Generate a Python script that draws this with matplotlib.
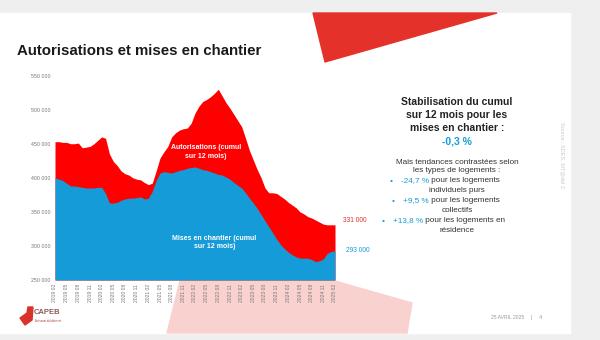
import matplotlib
matplotlib.use("Agg")
import matplotlib.pyplot as plt
import matplotlib.patches as mpatches
import numpy as np

plt.rcParams['font.family'] = ['Liberation Sans', 'DejaVu Sans']

# cumul sur 12 mois, mensuel de 2019-02 a 2025-02
autorisations = [453, 453, 452, 452, 450, 450, 451, 444, 445, 446, 450, 455,
                 460, 458, 435, 424, 418, 410, 406, 404, 400, 398, 397, 393,
                 390, 392, 410, 429, 438, 446, 460, 466, 470, 472, 473, 480,
                 495, 505, 512, 515, 519, 524, 530, 520, 510, 502, 493, 484,
                 475, 458, 440, 426, 412, 400, 385, 378, 378, 377, 373, 369,
                 364, 360, 356, 350, 347, 343, 341, 338, 335, 332, 331, 331,
                 331]
mises_en_chantier = [400, 398, 396, 392, 388, 388, 387, 386, 385, 385, 385, 386,
                     386, 377, 363, 363, 364, 367, 369, 370, 370, 371, 372, 369,
                     370, 380, 396, 407, 409, 408, 407, 409, 411, 412, 414, 415,
                     416, 414, 412, 411, 409, 407, 405, 404, 401, 398, 393, 389,
                     385, 378, 370, 363, 355, 346, 337, 328, 319, 310, 302, 296,
                     291, 287, 284, 282, 282, 282, 280, 277, 278, 281, 289, 292,
                     293]
x_labels = ['2019 02', '2019 05', '2019 08', '2019 11', '2020 02', '2020 05',
            '2020 08', '2020 11', '2021 02', '2021 05', '2021 08', '2021 11',
            '2022 02', '2022 05', '2022 08', '2022 11', '2023 02', '2023 05',
            '2023 08', '2023 11', '2024 02', '2024 05', '2024 08', '2024 11',
            '2025 02']
y_ticks = [250000, 300000, 350000, 400000, 450000, 500000, 550000]

RED = '#ff0000'
BLUE = '#159bd7'
W, H = 600, 340


def fx(x):
    return x / W


def fy(y):
    return 1 - y / H


fig = plt.figure(figsize=(6, 3.4), dpi=100, facecolor='#efefef')

# slide background and decorations
fig.patches.append(mpatches.Rectangle((fx(0), fy(333)), fx(570), 320 / H,
                                      transform=fig.transFigure, color='white', zorder=-2))
fig.patches.append(mpatches.Polygon([(fx(313), fy(13)), (fx(497), fy(13)), (fx(325), fy(62))],
                                    transform=fig.transFigure, color='#e4322b', zorder=-1))
fig.patches.append(mpatches.Polygon([(fx(180), fy(281)), (fx(335), fy(281)), (fx(412), fy(303)),
                                     (fx(407), fy(333)), (fx(167), fy(333))],
                                    transform=fig.transFigure, color='#f9d2d0', zorder=-1))

ax = fig.add_axes([fx(55), fy(280), 280 / W, (280 - 75.6) / H])
ax.set_zorder(5)
ax.set_facecolor('none')
months = np.arange(len(autorisations))
aut = np.array(autorisations) * 1000
mec = np.array(mises_en_chantier) * 1000
ax.fill_between(months, 250000, aut, color=RED, lw=0)
ax.fill_between(months, 250000, mec, color=BLUE, lw=0)
ax.set_xlim(0, 72)
ax.set_ylim(250000, 550000)
ax.set_yticks(y_ticks)
ax.set_yticklabels([f'{v // 1000} 000' for v in y_ticks], fontsize=3.8, color='#777777')
ax.set_xticks(np.arange(0, 73, 3))
ax.set_xticklabels(x_labels, rotation=90, fontsize=3.6, color='#777777')
ax.tick_params(length=0, pad=3)
for s in ax.spines.values():
    s.set_visible(False)

ax.text(38.8, 438000, 'Autorisations (cumul\nsur 12 mois)', color='white', fontsize=5,
        fontweight='bold', ha='center', va='center', linespacing=1.3)
ax.text(41, 305000, 'Mises en chantier (cumul\nsur 12 mois)', color='white', fontsize=5,
        fontweight='bold', ha='center', va='center', linespacing=1.3)
fig.text(fx(343), fy(220), '331 000', color='#e0302a', fontsize=4.8, va='center')
fig.text(fx(346), fy(251), '293 000', color=BLUE, fontsize=4.8, va='center')

fig.text(fx(17), fy(51), 'Autorisations et mises en chantier', fontsize=10.8,
         fontweight='bold', color='#1a1a1a', va='center')

# encadre de droite
cx = fx(457)
for i, line in enumerate(['Stabilisation du cumul', 'sur 12 mois pour les',
                          'mises en chantier :']):
    fig.text(cx, fy(102 + 13 * i), line, fontsize=7.5, fontweight='bold',
             color='#222222', ha='center', va='center')
fig.text(cx, fy(141), '-0,3 %', fontsize=7.5, fontweight='bold', color=BLUE,
         ha='center', va='center')
body = [(162, 'Mais tendances contrastées selon', None),
        (171, 'les types de logements :', None),
        (181, ' pour les logements', '-24,7 %'),
        (190, 'individuels purs', None),
        (201, ' pour les logements', '+9,5 %'),
        (210, 'collectifs', None),
        (221, ' pour les logements en', '+13,8 %'),
        (231, 'résidence', None)]
for y, txt, pct in body:
    if pct is None:
        fig.text(cx, fy(y), txt, fontsize=5.9, color='#333333', ha='center', va='center')
    else:
        t1 = fig.text(cx + 0.012, fy(y), txt, fontsize=5.9, color='#333333',
                      ha='center', va='center')
        fig.canvas.draw()
        bb = t1.get_window_extent()
        t2 = fig.text(bb.x0 / fig.bbox.width, fy(y), pct, fontsize=5.9, color=BLUE,
                      ha='right', va='center')
        fig.canvas.draw()
        bb2 = t2.get_window_extent()
        fig.text(bb2.x0 / fig.bbox.width - fx(10), fy(y), '•', fontsize=5.9,
                 color=BLUE, ha='center', va='center')

fig.text(fx(562), fy(155), 'Source : SDES, SIT@del 2', rotation=270, fontsize=4,
         color='#c8c8c8', ha='center', va='center')
fig.text(fx(517), fy(318), '25 AVRIL 2025     |     4', fontsize=3.6,
         color='#999999', ha='center', va='center')

# logo
fig.patches.append(mpatches.Polygon([(fx(20), fy(318)), (fx(27), fy(313)), (fx(28), fy(307)),
                                     (fx(33), fy(307)), (fx(32), fy(320)), (fx(25), fy(325))],
                                    transform=fig.transFigure, color='#d9312b', zorder=2))
fig.text(fx(34), fy(313), 'CAPEB', fontsize=5.5, fontweight='bold', color='#8e5a5a',
         va='center')
fig.text(fx(35), fy(321), 'Artisanat du bâtiment', fontsize=2, color='#b04040', va='center')

fig.savefig('out.png', dpi=100, facecolor=fig.get_facecolor())
